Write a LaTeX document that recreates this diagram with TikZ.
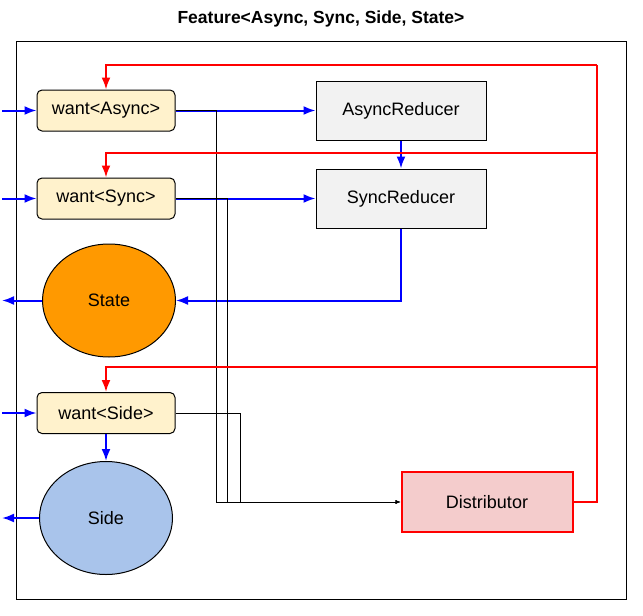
\documentclass[tikz,border=0pt]{standalone}
\usepackage{fontspec}
\setmainfont{Liberation Sans}
\usetikzlibrary{shapes,calc,arrows,arrows.meta,positioning}
\definecolor{mred}{HTML}{FF0000}
\definecolor{mblue}{HTML}{0000FF}
\definecolor{mcream}{HTML}{FFF2CC}
\definecolor{morange}{HTML}{FF9900}
\definecolor{msky}{HTML}{A9C4EB}
\definecolor{mgrey}{HTML}{F2F2F2}
\definecolor{mpink}{HTML}{F4CCCC}
\tikzstyle{l1}=[line width=1pt]
\tikzstyle{l2}=[line width=2pt]
\tikzstyle{lbl}=[font=\fontsize{18}{20}\selectfont]
\tikzstyle{want}=[rectangle, rounded corners=5pt, draw=black, fill=mcream, minimum width=138pt, minimum height=41pt, l1, lbl, inner sep=0pt]
\tikzstyle{reducer}=[rectangle, draw=black, fill=mgrey, minimum width=170pt, minimum height=59pt, l1, lbl, inner sep=0pt]
\tikzstyle{store}=[ellipse, draw=black, minimum width=133pt, minimum height=113pt, l1, lbl, inner sep=0pt]
\tikzstyle{distbox}=[rectangle, draw=mred, fill=mpink, minimum width=171pt, minimum height=60pt, l2, lbl, inner sep=0pt]
\tikzstyle{flow}=[l2, color=mblue, -{Latex[length=12pt,width=9pt]}]
\tikzstyle{feed}=[l2, color=mred, -{Latex[length=12pt,width=9pt]}]
\tikzstyle{wire}=[l1, color=black, -{Latex[length=5pt,width=4pt]}]

\begin{document}
\begin{tikzpicture}[x=1pt, y=-1pt, node distance=1cm, on grid]

    \useasboundingbox (0,0) rectangle (643,616);

    \node (title) at (321,19) {\fontsize{17.5}{20}\selectfont\bfseries Feature<Async, Sync, Side, State>};
    \draw[l1] (16,41) rectangle (626,599);

    % left column
    \node (wantA) [want] at (106,110.5) {want<Async>};
    \node (wantS) [want, below = 88pt of wantA] {want<Sync>};
    \node (state) [store, fill=morange, below right = 102pt and 3pt of wantS] {State};
    \node (wantD) [want, below left = 112.5pt and 3pt of state] {want<Side>};
    \node (side) [store, fill=msky, below = 105pt of wantD] {Side};

    % reducers
    \node (asyncR) [reducer, right = 295pt of wantA] {AsyncReducer};
    \node (syncR) [reducer, right = 295pt of wantS] {SyncReducer};
    \node (dist) [distbox, below right = 89pt and 381pt of wantD] {Distributor};

    \coordinate (inl) at (2,0);
    \coordinate (ra) at (597,65);
    \coordinate (rb) at (597,153);
    \coordinate (rc) at (597,367);
    \coordinate (ja) at (216,502);
    \coordinate (jb) at (227,502);
    \coordinate (jc) at (240,502);

    % blue flows
    \foreach \n in {wantA,wantS,wantD}{
            \draw[flow] (\n.west -| inl) -- (\n.west);
        }
    \draw[flow] (state.west) -- (state.west -| inl);
    \draw[flow] (side.west) -- (side.west -| inl);
    \draw[flow] (wantA.east) -- (asyncR.west);
    \draw[flow] (wantS.east) -- (syncR.west);
    \draw[flow] (asyncR.south) -- (syncR.north);
    \draw[flow] (syncR.south) |- (state.east);
    \draw[flow] (wantD.south) -- (side.north);

    % wires to the distributor
    \foreach \n/\j in {wantA/ja,wantS/jb,wantD/jc}{
            \draw[wire] (\n.east) -| (\j) -- (dist.west);
        }

    % red feedback
    \draw[l2, color=mred] (dist.east) -| (ra);
    \foreach \n/\r in {wantA/ra,wantS/rb,wantD/rc}{
            \draw[feed] (\r) -| (\n.north);
        }

\end{tikzpicture}
\end{document}
